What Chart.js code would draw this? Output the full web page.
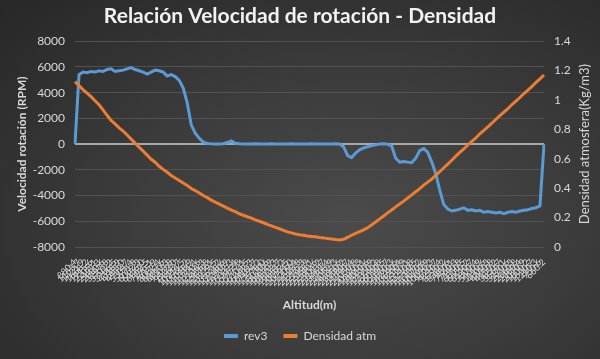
<!DOCTYPE html>
<html>
<head>
<meta charset="utf-8">
<script src="https://cdn.jsdelivr.net/npm/chart.js@4.4.1/dist/chart.umd.min.js"></script>
<style>
  html, body { margin: 0; padding: 0; }
  body {
    width: 600px; height: 359px; overflow: hidden;
    background: radial-gradient(ellipse at 58% 62%, #4b4b4b 0%, #3c3c3c 45%, #272727 100%);
  }
  #wrap { position: relative; width: 600px; height: 359px; }
</style>
</head>
<body>
<div id="wrap"><canvas id="chart"></canvas></div>
<script>
// --- Data ---
const altitudes = [
  '880.4', '1153.7', '1421.9', '1668.2', '1915.6', '2205.1', '2497.3', '2880.6', '3297.8', '3701.2',
  '3986.5', '4318.9', '4583.0', '4932.7', '5301.4', '5671.8', '6062.3', '6456.0', '6862.5', '7295.1',
  '7615.9', '8082.4', '8447.6', '8810.3', '9203.8', '9532.0', '9868.7', '10214.5', '10566.2', '11018.9',
  '11331.4', '11720.6', '12124.3', '12456.8', '12879.1', '13229.5', '13571.2', '13948.6', '14340.9', '14722.3',
  '15037.4', '15462.8', '15777.1', '16104.5', '16442.3', '16831.7', '17194.2', '17578.0', '18020.6', '18432.9',
  '18870.3', '19332.7', '19851.2', '20392.5', '20791.0', '21209.4', '21528.8', '21795.3', '22146.9', '22368.1',
  '22590.6', '22901.2', '23143.7', '23462.4', '23708.9', '24052.3', '24312.6', '23950.2', '22480.7', '21790.4',
  '21050.8', '20520.3', '19860.1', '19010.6', '18120.9', '17350.2', '16640.8', '16030.5', '15390.7', '14860.3',
  '14210.6', '13690.4', '13200.9', '12720.1', '12210.8', '11760.5', '11330.2', '10870.6', '10460.9', '10090.3',
  '9620.7', '9210.4', '8770.2', '8380.6', '7980.1', '7560.3', '7190.8', '6850.5', '6450.2', '6120.7',
  '5800.4', '5430.9', '5110.6', '4800.3', '4490.8', '4150.2', '3850.7', '3560.1', '3270.6', '2940.3',
  '2660.8', '2380.4', '2070.9', '1800.2', '1530.7', '1210.3', '950.6', '660.2'
];

const rev3 = [
  0, 5400, 5600, 5550, 5650, 5600, 5700, 5650, 5800, 5850,
  5650, 5700, 5750, 5850, 5950, 5800, 5700, 5600, 5450, 5600,
  5750, 5700, 5600, 5300, 5400, 5250, 4950, 4350, 3200, 1500,
  850, 450, 150, 50, 20, 0, 10, 30, 120, 250,
  60, 20, 10, 0, 10, 20, 0, 10, 0, 20,
  10, 0, 10, 0, 20, 10, 0, 0, 10, 20,
  0, 10, 0, 10, 0, 20, 10, -200, -900, -1050,
  -700, -450, -300, -200, -120, -60, 0, 30, 0, -150,
  -1100, -1400, -1350, -1400, -1450, -1100, -500, -350, -650, -1400,
  -2300, -3600, -4700, -5050, -5200, -5150, -5050, -4950, -5150, -5100,
  -5200, -5150, -5300, -5250, -5300, -5350, -5300, -5400, -5300, -5250,
  -5300, -5200, -5150, -5100, -5000, -4950, -4800, 0
];

const densidadAtm = [
  1.125, 1.098, 1.071, 1.047, 1.023, 0.995, 0.968, 0.933, 0.896, 0.861,
  0.837, 0.810, 0.789, 0.762, 0.734, 0.707, 0.679, 0.652, 0.625, 0.597,
  0.577, 0.549, 0.528, 0.508, 0.487, 0.470, 0.453, 0.436, 0.419, 0.398,
  0.384, 0.367, 0.350, 0.336, 0.319, 0.305, 0.292, 0.278, 0.264, 0.251,
  0.240, 0.226, 0.216, 0.206, 0.196, 0.185, 0.175, 0.165, 0.154, 0.144,
  0.134, 0.124, 0.113, 0.103, 0.096, 0.089, 0.084, 0.080, 0.075, 0.072,
  0.069, 0.065, 0.062, 0.058, 0.055, 0.051, 0.048, 0.052, 0.066, 0.080,
  0.093, 0.104, 0.117, 0.131, 0.150, 0.170, 0.191, 0.211, 0.232, 0.252,
  0.273, 0.292, 0.312, 0.333, 0.355, 0.376, 0.397, 0.421, 0.441, 0.462,
  0.488, 0.512, 0.539, 0.564, 0.590, 0.618, 0.643, 0.667, 0.694, 0.718,
  0.742, 0.770, 0.794, 0.818, 0.842, 0.869, 0.893, 0.917, 0.941, 0.969,
  0.993, 1.017, 1.044, 1.068, 1.092, 1.120, 1.144, 1.170
];

const rpmRange = [-8000, 8000];
const densityRange = [0, 1.4];

const FONT = 'Lato, "Open Sans", sans-serif';
const TEXT = '#d9d9d9';

// axis titles drawn by hand (right one reads bottom-to-top like the original)
const axisTitles = {
  id: 'axisTitles',
  afterDraw(chart) {
    const { ctx, chartArea } = chart;
    const midY = (chartArea.top + chartArea.bottom) / 2;
    ctx.save();
    ctx.fillStyle = TEXT;
    ctx.textAlign = 'center';
    ctx.textBaseline = 'middle';

    ctx.font = 'bold 12px ' + FONT;
    ctx.fillText('Altitud(m)', (chartArea.left + chartArea.right) / 2, chartArea.bottom + 58);

    ctx.save();
    ctx.translate(chartArea.left - 53, midY);
    ctx.rotate(-Math.PI / 2);
    ctx.fillText('Velocidad rotación (RPM)', 0, 0);
    ctx.restore();

    ctx.save();
    ctx.font = '13px ' + FONT;
    ctx.translate(chartArea.right + 41, midY);
    ctx.rotate(-Math.PI / 2);
    ctx.fillText('Densidad atmosfera(Kg/m3)', 0, 0);
    ctx.restore();

    ctx.restore();
  }
};

new Chart(document.getElementById('chart'), {
  type: 'line',
  data: {
    labels: altitudes,
    datasets: [
      {
        label: 'rev3',
        data: rev3,
        borderColor: '#5b9bd5',
        backgroundColor: '#5b9bd5',
        borderWidth: 3,
        pointRadius: 0,
        tension: 0,
        yAxisID: 'y',
        order: 1
      },
      {
        label: 'Densidad atm',
        data: densidadAtm,
        borderColor: '#ed7d31',
        backgroundColor: '#ed7d31',
        borderWidth: 3,
        pointRadius: 0,
        tension: 0,
        yAxisID: 'y1',
        order: 0
      }
    ]
  },
  options: {
    responsive: true,
    maintainAspectRatio: false,
    animation: false,
    layout: { padding: { bottom: 7 } },
    plugins: {
      title: {
        display: true,
        text: 'Relación Velocidad de rotación - Densidad',
        color: '#f2f2f2',
        font: { family: FONT, size: 21, weight: 'bold' },
        padding: { top: 4, bottom: 12 }
      },
      legend: {
        position: 'bottom',
        labels: {
          color: TEXT,
          font: { family: FONT, size: 12 },
          boxWidth: 14,
          boxHeight: 4,
          padding: 16,
          sort: (a, b) => a.datasetIndex - b.datasetIndex,
          generateLabels: (chart) => {
            const items = Chart.defaults.plugins.legend.labels.generateLabels(chart);
            items.forEach(item => { item.lineWidth = 0; });
            return items;
          }
        }
      },
      tooltip: { enabled: false }
    },
    scales: {
      x: {
        grid: { display: false, drawTicks: false },
        border: { display: false },
        ticks: {
          autoSkip: false,
          minRotation: 45,
          maxRotation: 45,
          padding: 10,
          color: TEXT,
          font: { family: FONT, size: 9 }
        },
        afterFit: (scale) => { scale.height = 67; }
      },
      y: {
        position: 'left',
        min: rpmRange[0],
        max: rpmRange[1],
        ticks: {
          stepSize: 2000,
          padding: 10,
          color: TEXT,
          font: { family: FONT, size: 12 },
          callback: (v) => String(v)
        },
        grid: {
          drawTicks: false,
          color: (c) => c.tick && c.tick.value === 0 ? '#a8a8a8' : '#525252',
          lineWidth: (c) => c.tick && c.tick.value === 0 ? 2 : 1
        },
        border: { display: false },
        afterFit: (scale) => { scale.width = 75; }
      },
      y1: {
        position: 'right',
        min: densityRange[0],
        max: densityRange[1],
        ticks: {
          stepSize: 0.2,
          padding: 10,
          color: TEXT,
          font: { family: FONT, size: 12 },
          callback: (v) => String(Math.round(v * 10) / 10)
        },
        grid: { display: false, drawTicks: false },
        border: { display: false },
        afterFit: (scale) => { scale.width = 56; }
      }
    }
  },
  plugins: [axisTitles]
});
</script>
</body>
</html>
